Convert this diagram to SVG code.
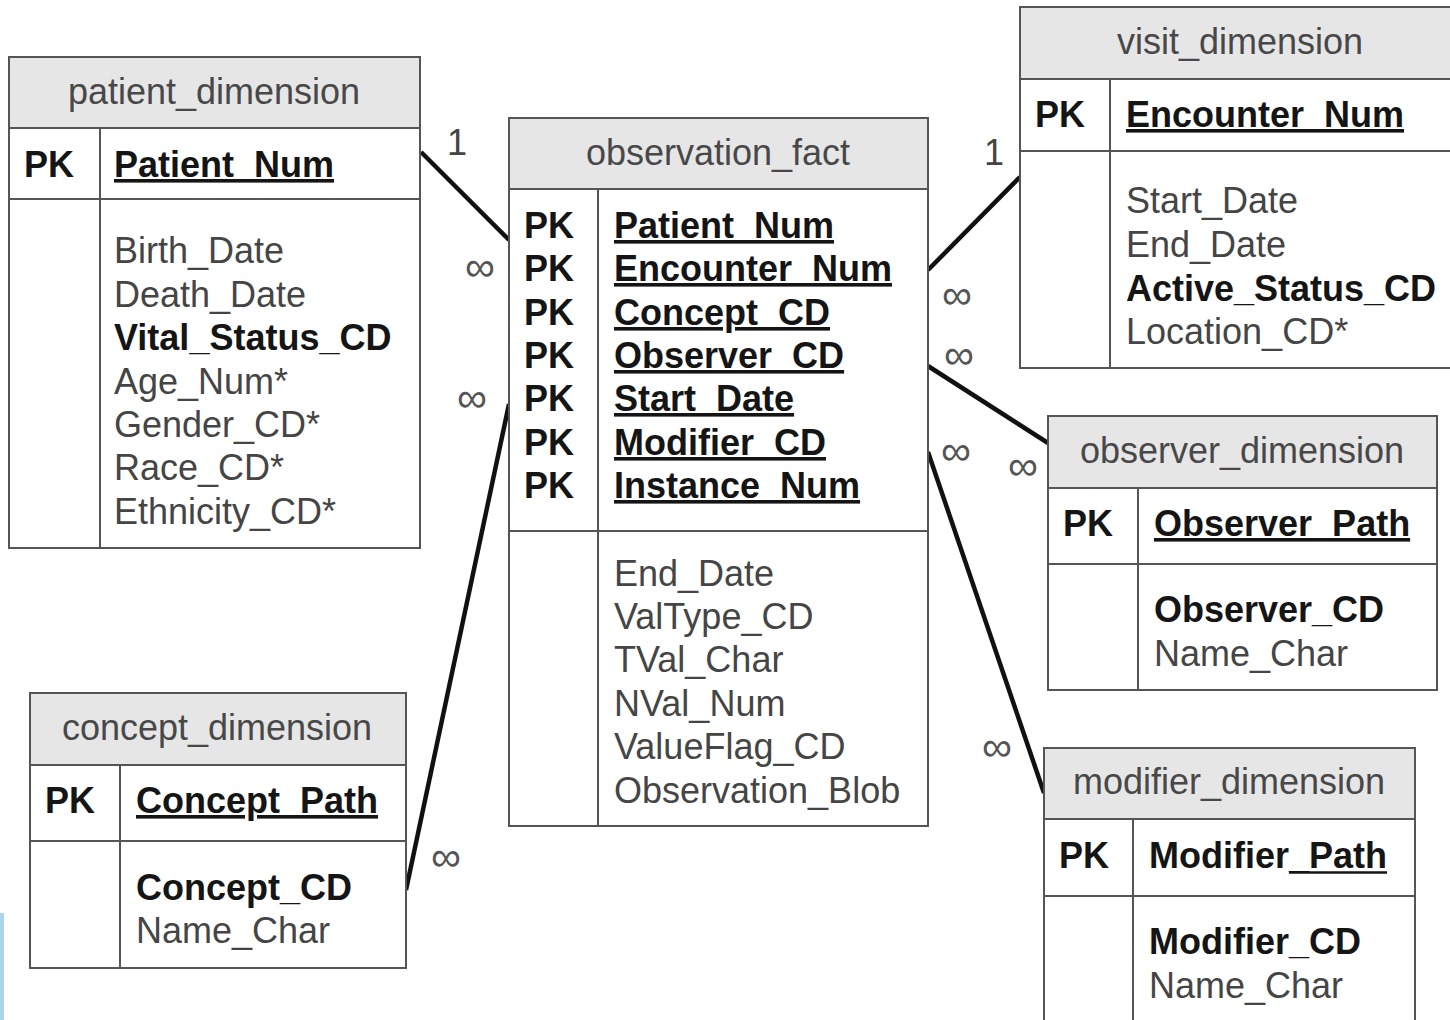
<svg xmlns="http://www.w3.org/2000/svg" width="1450" height="1020" viewBox="0 0 1450 1020">
<style>
text{font-family:"Liberation Sans",Arial,Helvetica,sans-serif;font-size:36px;}
.t{fill:#484848;text-anchor:middle;}
.n{fill:#454545;}
.b{fill:#151515;font-weight:bold;}
.u{text-decoration:underline;}
.box{fill:#ffffff;stroke:#555;stroke-width:2;}
.hd{fill:#e6e6e6;stroke:#555;stroke-width:2;}
.ln{stroke:#555;stroke-width:2;fill:none;}
.c{stroke:#111;stroke-width:4.5;fill:none;}
.lab{fill:#444;}
.inf{fill:#555;font-size:42px;text-anchor:middle;}
</style>
<rect width="1450" height="1020" fill="#ffffff"/>
<rect x="0" y="913" width="4" height="107" fill="#a9d5ef"/>

<g id="connectors">
<line class="c" x1="421" y1="152" x2="509" y2="240"/>
<line class="c" x1="406" y1="890" x2="509" y2="404"/>
<line class="c" x1="928" y1="270" x2="1020" y2="177"/>
<line class="c" x1="928" y1="366" x2="1048" y2="443"/>
<line class="c" x1="928" y1="452" x2="1044" y2="793"/>
<text class="lab" x="447" y="155">1</text>
<text class="lab" x="984" y="165">1</text>
<text class="inf" x="480" y="281">∞</text>
<text class="inf" x="472" y="412">∞</text>
<text class="inf" x="446" y="871">∞</text>
<text class="inf" x="957" y="309">∞</text>
<text class="inf" x="959" y="369">∞</text>
<text class="inf" x="956" y="465">∞</text>
<text class="inf" x="1023" y="480">∞</text>
<text class="inf" x="997" y="761">∞</text>
</g>

<g id="patient_dimension">
<rect class="box" x="9" y="57" width="411" height="491"/>
<rect class="hd" x="9" y="57" width="411" height="71"/>
<line class="ln" x1="9" y1="199" x2="420" y2="199"/>
<line class="ln" x1="100" y1="128" x2="100" y2="548"/>
<text class="t" x="214" y="104">patient_dimension</text>
<text class="b" x="24" y="177">PK</text>
<text class="b u" x="114" y="177">Patient_Num</text>
<text class="n" x="114" y="263">Birth_Date</text>
<text class="n" x="114" y="307">Death_Date</text>
<text class="b" x="114" y="350">Vital_Status_CD</text>
<text class="n" x="114" y="394">Age_Num*</text>
<text class="n" x="114" y="437">Gender_CD*</text>
<text class="n" x="114" y="480">Race_CD*</text>
<text class="n" x="114" y="524">Ethnicity_CD*</text>
</g>

<g id="observation_fact">
<rect class="box" x="509" y="118" width="419" height="708"/>
<rect class="hd" x="509" y="118" width="419" height="71"/>
<line class="ln" x1="509" y1="531" x2="928" y2="531"/>
<line class="ln" x1="598" y1="189" x2="598" y2="826"/>
<text class="t" x="718" y="165">observation_fact</text>
<text class="b" x="524" y="238">PK</text>
<text class="b" x="524" y="281">PK</text>
<text class="b" x="524" y="325">PK</text>
<text class="b" x="524" y="368">PK</text>
<text class="b" x="524" y="411">PK</text>
<text class="b" x="524" y="455">PK</text>
<text class="b" x="524" y="498">PK</text>
<text class="b u" x="614" y="238">Patient_Num</text>
<text class="b u" x="614" y="281">Encounter_Num</text>
<text class="b u" x="614" y="325">Concept_CD</text>
<text class="b u" x="614" y="368">Observer_CD</text>
<text class="b u" x="614" y="411">Start_Date</text>
<text class="b u" x="614" y="455">Modifier_CD</text>
<text class="b u" x="614" y="498">Instance_Num</text>
<text class="n" x="614" y="586">End_Date</text>
<text class="n" x="614" y="629">ValType_CD</text>
<text class="n" x="614" y="672">TVal_Char</text>
<text class="n" x="614" y="716">NVal_Num</text>
<text class="n" x="614" y="759">ValueFlag_CD</text>
<text class="n" x="614" y="803">Observation_Blob</text>
</g>

<g id="visit_dimension">
<rect class="box" x="1020" y="7" width="440" height="361"/>
<rect class="hd" x="1020" y="7" width="440" height="72"/>
<line class="ln" x1="1020" y1="151" x2="1460" y2="151"/>
<line class="ln" x1="1110" y1="79" x2="1110" y2="368"/>
<text class="t" x="1240" y="54">visit_dimension</text>
<text class="b" x="1035" y="127">PK</text>
<text class="b u" x="1126" y="127">Encounter_Num</text>
<text class="n" x="1126" y="213">Start_Date</text>
<text class="n" x="1126" y="257">End_Date</text>
<text class="b" x="1126" y="301">Active_Status_CD</text>
<text class="n" x="1126" y="344">Location_CD*</text>
</g>

<g id="observer_dimension">
<rect class="box" x="1048" y="416" width="389" height="274"/>
<rect class="hd" x="1048" y="416" width="389" height="72"/>
<line class="ln" x1="1048" y1="564" x2="1437" y2="564"/>
<line class="ln" x1="1138" y1="488" x2="1138" y2="690"/>
<text class="t" x="1242" y="463">observer_dimension</text>
<text class="b" x="1063" y="536">PK</text>
<text class="b u" x="1154" y="536">Observer_Path</text>
<text class="b" x="1154" y="622">Observer_CD</text>
<text class="n" x="1154" y="666">Name_Char</text>
</g>

<g id="modifier_dimension">
<rect class="box" x="1044" y="748" width="371" height="280"/>
<rect class="hd" x="1044" y="748" width="371" height="71"/>
<line class="ln" x1="1044" y1="896" x2="1415" y2="896"/>
<line class="ln" x1="1133" y1="819" x2="1133" y2="1028"/>
<text class="t" x="1229" y="794">modifier_dimension</text>
<text class="b" x="1059" y="868">PK</text>
<text class="b" x="1149" y="868">Modifier_Path</text>
<line x1="1289" y1="872.5" x2="1387" y2="872.5" stroke="#151515" stroke-width="2.6"/>
<text class="b" x="1149" y="954">Modifier_CD</text>
<text class="n" x="1149" y="998">Name_Char</text>
</g>

<g id="concept_dimension">
<rect class="box" x="30" y="693" width="376" height="275"/>
<rect class="hd" x="30" y="693" width="376" height="72"/>
<line class="ln" x1="30" y1="841" x2="406" y2="841"/>
<line class="ln" x1="120" y1="765" x2="120" y2="968"/>
<text class="t" x="217" y="740">concept_dimension</text>
<text class="b" x="45" y="813">PK</text>
<text class="b u" x="136" y="813">Concept_Path</text>
<text class="b" x="136" y="900">Concept_CD</text>
<text class="n" x="136" y="943">Name_Char</text>
</g>
</svg>
